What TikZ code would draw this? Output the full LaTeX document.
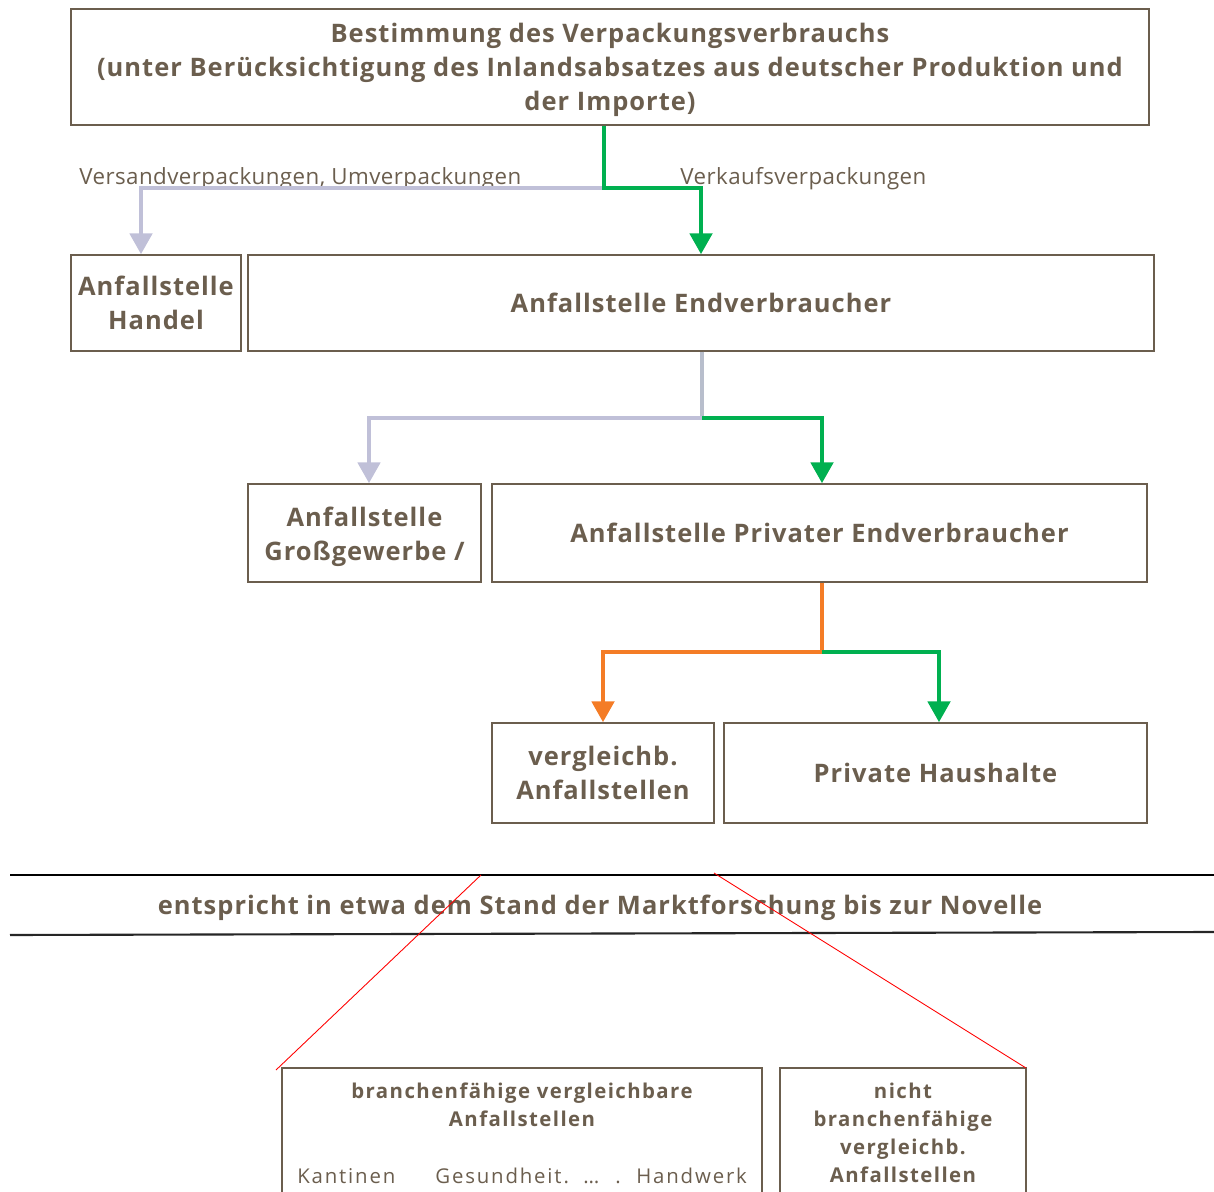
\documentclass[tikz,border=0pt]{standalone}
\usepackage{fontspec}
\setmainfont{Open Sans}
\usetikzlibrary{arrows.meta}
\usetikzlibrary{positioning}
\definecolor{mbrown}{RGB}{107,94,78}
\definecolor{mgreen}{RGB}{0,176,80}
\definecolor{mlav}{RGB}{192,192,216}
\definecolor{mgrey}{RGB}{184,190,204}
\definecolor{morange}{RGB}{244,124,38}
\tikzset{box/.style = {draw=mbrown, line width=0.8pt, text=mbrown, align=center, inner sep=0pt,
                       font=\addfontfeatures{LetterSpace=4}\bfseries\fontsize{14.5}{19.3}\selectfont}}
\tikzset{flow/.style = {line width=2.8pt, -{Triangle[length=0.42cm,width=0.44cm]}}}
\tikzset{lbl/.style = {text=mbrown, inner sep=0pt,
                       font=\addfontfeatures{LetterSpace=2}\fontsize{12.7}{15}\selectfont}}
\tikzset{small/.style = {text=mbrown, align=center, inner sep=0pt,
                         font=\addfontfeatures{LetterSpace=7}\bfseries\fontsize{11.6}{15.9}\selectfont}}
\tikzset{row/.style = {text=mbrown, inner sep=0pt, anchor=base west,
                       font=\addfontfeatures{LetterSpace=9}\fontsize{11.6}{15.9}\selectfont}}

\begin{document}
\begin{tikzpicture}[x=0.02cm, y=-0.02cm]
    \useasboundingbox (0,0) rectangle (1214,1192);
    \node [box, minimum width=21.56cm, minimum height=2.32cm] (verbrauch) at (610,67)
        {\rule{0pt}{0.51cm}Bestimmung des Verpackungsverbrauchs\\(unter Berücksichtigung des Inlandsabsatzes aus deutscher Produktion und\\der Importe)};
    \node [box, minimum width=3.4cm, minimum height=1.92cm] (handel) at (156,303) {Anfallstelle\\Handel};
    \node [box, minimum width=18.12cm, minimum height=1.92cm] (endv) at (701,303) {Anfallstelle Endverbraucher};
    \node [box, minimum width=4.66cm, minimum height=1.96cm] (gross) at (364.5,533) {\rule{0pt}{0.53cm}Anfallstelle\\Großgewerbe /};
    \node [box, minimum width=13.1cm, minimum height=1.96cm] (privat) at (819.5,533) {Anfallstelle Privater Endverbraucher};
    \node [box, minimum width=4.44cm, minimum height=2cm] (vergl) at (603,773) {vergleichb.\\Anfallstellen};
    \node [box, minimum width=8.46cm, minimum height=2cm] (haush) at (935.5,773) {Private Haushalte};

    \node [lbl, anchor=west] (versand) at (79,179) {Versandverpackungen, Umverpackungen};
    \node [lbl, anchor=west] (verkauf) at (680,179) {Verkaufsverpackungen};

    % Verzweigungen
    \coordinate (split1) at (604,188);
    \coordinate (split2) at (702,418);
    \coordinate (split3) at (822,652);
    \draw [flow, mlav] (split1) -| ([xshift=-0.3cm]handel.north);
    \draw [flow, mgreen] (verbrauch.south -| split1) -- (split1) -| (endv.north);
    \draw [mgrey, line width=2.8pt] (endv.south -| split2) -- (split2);
    \draw [flow, mlav] (split2) -| ([xshift=0.09cm]gross.north);
    \draw [flow, mgreen] (split2) -| ([xshift=0.05cm]privat.north);
    \draw [morange, line width=2.8pt] (privat.south -| split3) -- (split3);
    \draw [flow, morange] (split3) -| (vergl.north);
    \draw [flow, mgreen] (split3) -| ([xshift=0.07cm]haush.north);

    % Stand der Marktforschung
    \draw [line width=1.2pt] (10,875) -- (1214,875);
    \draw [line width=1.2pt, black!85] (10,935) -- (1214,932);
    \node [box, draw=none] (stand) at (600,908) {entspricht in etwa dem Stand der Marktforschung bis zur Novelle};

    \node [box, minimum width=9.6cm, minimum height=2.88cm] (branche) at (522,1140) {};
    \node [box, minimum width=4.92cm, minimum height=2.88cm] (nichtbr) at (903,1140) {};
    \node [small] (branchetxt) at (522,1105) {branchenfähige vergleichbare\\Anfallstellen};
    \node [small] (nichtbrtxt) at (903,1133) {nicht\\branchenfähige\\vergleichb.\\Anfallstellen};
    \node [row] (kantinen) at (297,1183) {Kantinen};
    \node [row] (gesundheit) at (435,1183) {Gesundheit.};
    \node [row] (dots) at (583,1183) {…};
    \node [row] (punkt) at (615,1183) {.};
    \node [row] (handwerk) at (636,1183) {Handwerk};

    \draw [red, line width=0.5pt] (481,875) -- (276,1070);
    \draw [red, line width=0.5pt] (714,873) -- (1026,1068);
\end{tikzpicture}
\end{document}
